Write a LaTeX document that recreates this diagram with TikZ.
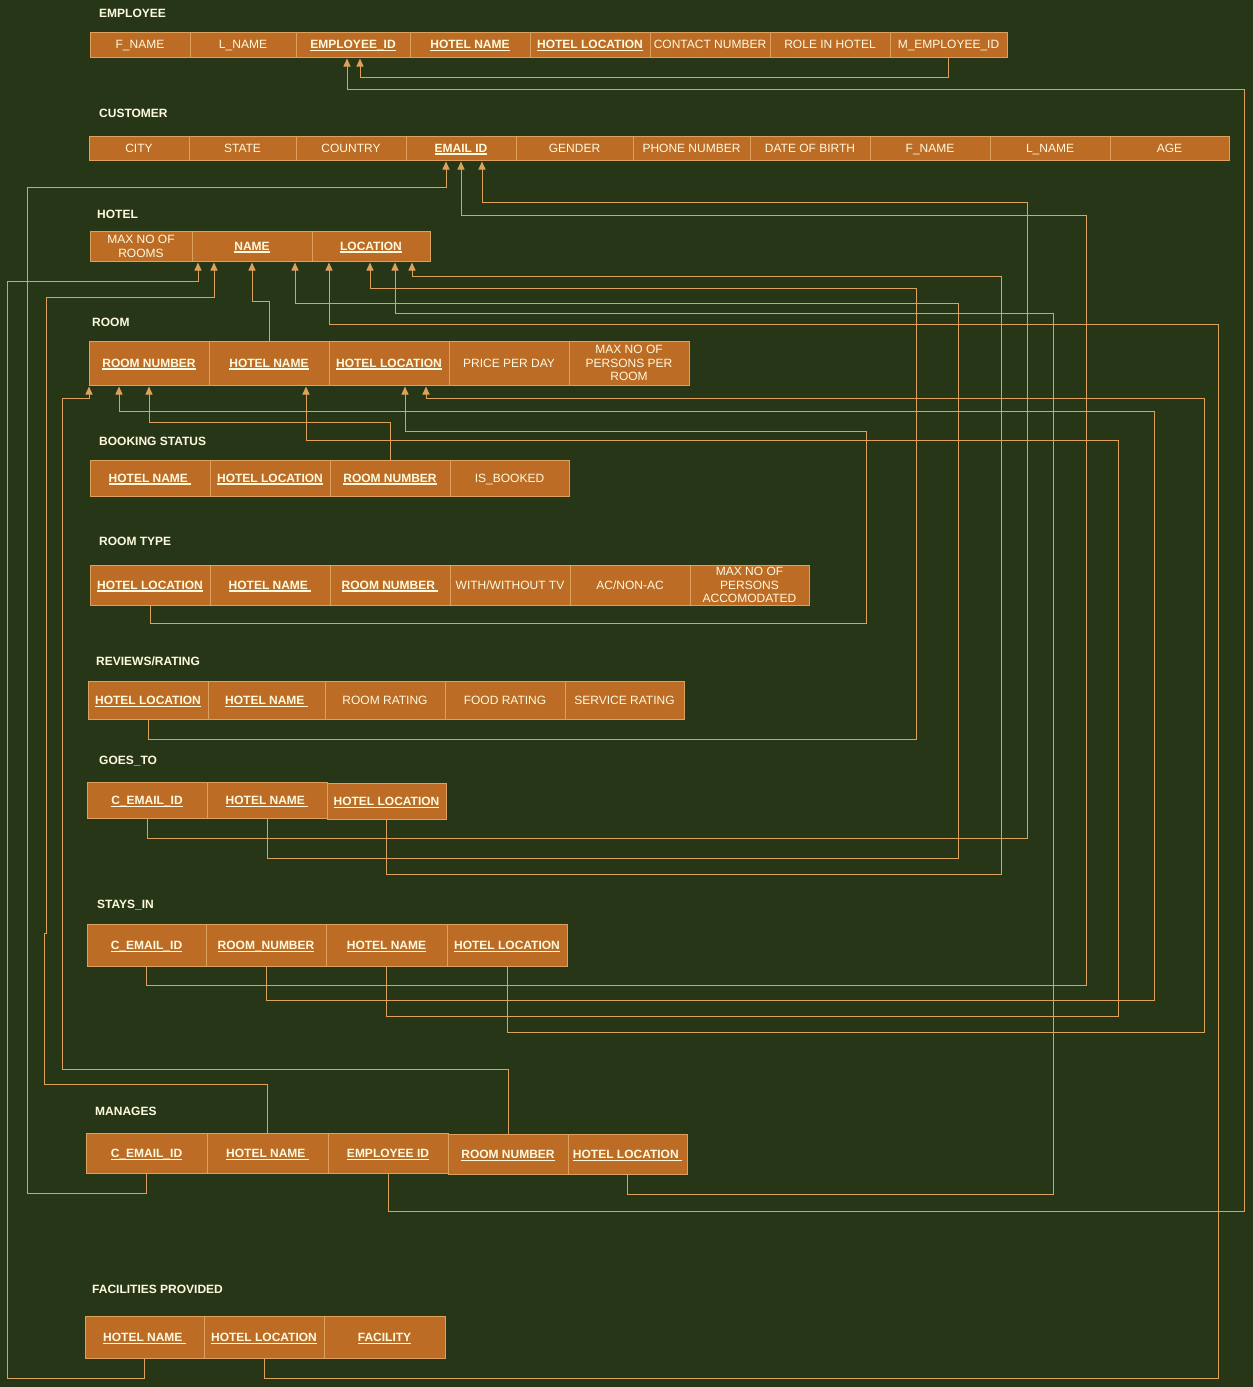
\documentclass[tikz,border=0pt]{standalone}
\usepackage{fontspec}
\setmainfont{Liberation Sans}
\usetikzlibrary{arrows.meta}
\usetikzlibrary{positioning}
\definecolor{bgc}{HTML}{283618}
\definecolor{cellc}{HTML}{BC6C25}
\definecolor{linec}{HTML}{DDA15E}
\definecolor{ink}{HTML}{FEFAE0}
\newcommand{\keyname}[1]{\textbf{\setbox0\hbox{#1}\rlap{\smash{\vrule width\wd0 height-1.3pt depth2.5pt}}\box0}}

\begin{document}
\begin{tikzpicture}[x=1pt,y=-1pt,node distance=0pt,
  every node/.style={font=\fontsize{12}{13.8}\selectfont,text=ink},
  cell/.style={draw=linec,fill=cellc,line width=0.9pt,inner sep=0pt,outer sep=0pt,text depth=0pt,align=center},
  title/.style={anchor=west,inner sep=0pt,font=\fontsize{12}{13.8}\selectfont\bfseries},
  fk/.style={draw=linec,line width=0.9pt,shorten >=1.5pt,-{Triangle[width=7pt,length=8pt]}}]
  \path[use as bounding box,fill=bgc] (0,0) rectangle (1253,1387);
  % the tables
  \node[title] at (99,13) {EMPLOYEE};
  \begin{scope}[cell/.append style={minimum height=25pt}]
  \node[cell,minimum width=100pt,anchor=north west] (em1) at (90,32) {F\_NAME};
  \node[cell,minimum width=106pt,right=of em1] (em2) {L\_NAME};
  \node[cell,minimum width=114pt,right=of em2] (em3) {\keyname{EMPLOYEE\_ID}};
  \node[cell,minimum width=120pt,right=of em3] (em4) {\keyname{HOTEL NAME}};
  \node[cell,minimum width=120pt,right=of em4] (em5) {\keyname{HOTEL LOCATION}};
  \node[cell,minimum width=120pt,right=of em5] (em6) {CONTACT NUMBER};
  \node[cell,minimum width=120pt,right=of em6] (em7) {ROLE IN HOTEL};
  \node[cell,minimum width=117pt,right=of em7] (em8) {M\_EMPLOYEE\_ID};
  \end{scope}

  \node[title] at (99,113) {CUSTOMER};
  \begin{scope}[cell/.append style={minimum height=24pt}]
  \node[cell,minimum width=100pt,anchor=north west] (cu1) at (89,136) {CITY};
  \node[cell,minimum width=107pt,right=of cu1] (cu2) {STATE};
  \node[cell,minimum width=110pt,right=of cu2] (cu3) {COUNTRY};
  \node[cell,minimum width=110pt,right=of cu3] (cu4) {\keyname{EMAIL ID}};
  \node[cell,minimum width=117pt,right=of cu4] (cu5) {GENDER};
  \node[cell,minimum width=117pt,right=of cu5] (cu6) {PHONE NUMBER};
  \node[cell,minimum width=120pt,right=of cu6] (cu7) {DATE OF BIRTH};
  \node[cell,minimum width=120pt,right=of cu7] (cu8) {F\_NAME};
  \node[cell,minimum width=120pt,right=of cu8] (cu9) {L\_NAME};
  \node[cell,minimum width=119pt,right=of cu9] (cu10) {AGE};
  \end{scope}

  \node[title] at (97,214) {HOTEL};
  \begin{scope}[cell/.append style={minimum height=30pt}]
  \node[cell,minimum width=102pt,anchor=north west] (ho1) at (90,231) {MAX NO OF\\ROOMS};
  \node[cell,minimum width=120pt,right=of ho1] (ho2) {\keyname{NAME}};
  \node[cell,minimum width=118pt,right=of ho2] (ho3) {\keyname{LOCATION}};
  \end{scope}

  \node[title] at (92,322) {ROOM};
  \begin{scope}[cell/.append style={minimum height=44pt,minimum width=120pt}]
  \node[cell,anchor=north west] (ro1) at (89,341) {\keyname{ROOM NUMBER}};
  \node[cell,right=of ro1] (ro2) {\keyname{HOTEL NAME}};
  \node[cell,right=of ro2] (ro3) {\keyname{HOTEL LOCATION}};
  \node[cell,right=of ro3] (ro4) {PRICE PER DAY};
  \node[cell,right=of ro4] (ro5) {MAX NO OF\\PERSONS PER\\ROOM};
  \end{scope}

  \node[title] at (99,441) {BOOKING STATUS};
  \begin{scope}[cell/.append style={minimum height=36pt,minimum width=120pt}]
  \node[cell,anchor=north west] (bs1) at (90,460) {\keyname{HOTEL NAME\ }};
  \node[cell,right=of bs1] (bs2) {\keyname{HOTEL LOCATION}};
  \node[cell,right=of bs2] (bs3) {\keyname{ROOM NUMBER}};
  \node[cell,minimum width=119pt,right=of bs3] (bs4) {IS\_BOOKED};
  \end{scope}

  \node[title] at (99,541) {ROOM TYPE};
  \begin{scope}[cell/.append style={minimum height=40pt,minimum width=120pt}]
  \node[cell,anchor=north west] (rt1) at (90,565) {\keyname{HOTEL LOCATION}};
  \node[cell,right=of rt1] (rt2) {\keyname{HOTEL NAME\ }};
  \node[cell,right=of rt2] (rt3) {\keyname{ROOM NUMBER\ }};
  \node[cell,right=of rt3] (rt4) {WITH/WITHOUT TV};
  \node[cell,right=of rt4] (rt5) {AC/NON-AC};
  \node[cell,minimum width=119pt,right=of rt5] (rt6) {MAX NO OF\\PERSONS\\ACCOMODATED};
  \end{scope}

  \node[title] at (96,661) {REVIEWS/RATING};
  \begin{scope}[cell/.append style={minimum height=38pt,minimum width=120pt}]
  \node[cell,anchor=north west] (rr1) at (88,681) {\keyname{HOTEL LOCATION}};
  \node[cell,minimum width=117pt,right=of rr1] (rr2) {\keyname{HOTEL NAME\ }};
  \node[cell,right=of rr2] (rr3) {ROOM RATING};
  \node[cell,right=of rr3] (rr4) {FOOD RATING};
  \node[cell,minimum width=119pt,right=of rr4] (rr5) {SERVICE RATING};
  \end{scope}

  \node[title] at (99,761) {GOES\_TO};
  \begin{scope}[cell/.append style={minimum height=36pt,minimum width=120pt}]
  \node[cell,anchor=north west] (gt1) at (87,782) {\keyname{C\_EMAIL\_ID}};
  \node[cell,right=of gt1] (gt2) {\keyname{HOTEL NAME\ }};
  \node[cell,minimum width=119pt,right=of gt2,yshift=-1pt] (gt3) {\keyname{HOTEL LOCATION}};
  \end{scope}

  \node[title] at (97,905) {STAYS\_IN};
  \begin{scope}[cell/.append style={minimum height=42pt,minimum width=120pt}]
  \node[cell,minimum width=119pt,anchor=north west] (si1) at (87,924) {\keyname{C\_EMAIL\_ID}};
  \node[cell,right=of si1] (si2) {\keyname{ROOM\_NUMBER}};
  \node[cell,minimum width=121pt,right=of si2] (si3) {\keyname{HOTEL NAME}};
  \node[cell,right=of si3] (si4) {\keyname{HOTEL LOCATION}};
  \end{scope}

  \node[title] at (95,1111) {MANAGES};
  \begin{scope}[cell/.append style={minimum height=40pt,minimum width=120pt}]
  \node[cell,minimum width=121pt,anchor=north west] (ma1) at (86,1133) {\keyname{C\_EMAIL\_ID}};
  \node[cell,minimum width=121pt,right=of ma1] (ma2) {\keyname{HOTEL NAME\ }};
  \node[cell,right=of ma2] (ma3) {\keyname{EMPLOYEE ID}};
  \node[cell,right=of ma3,yshift=-1pt] (ma4) {\keyname{ROOM NUMBER}};
  \node[cell,minimum width=119pt,right=of ma4] (ma5) {\keyname{HOTEL LOCATION\ }};
  \end{scope}

  \node[title] at (92,1289) {FACILITIES PROVIDED};
  \begin{scope}[cell/.append style={minimum height=42pt,minimum width=120pt}]
  \node[cell,minimum width=119pt,anchor=north west] (fp1) at (85,1316) {\keyname{HOTEL NAME\ }};
  \node[cell,right=of fp1] (fp2) {\keyname{HOTEL LOCATION}};
  \node[cell,minimum width=121pt,right=of fp2] (fp3) {\keyname{FACILITY}};
  \end{scope}

  % the keys
  \draw[fk] (em8.south) -- ++(0,20) -| ([xshift=7pt]em3.south);
  \draw[fk] (ma3.south) |- (1244,1211) -- (1244,89) -| ([xshift=-6pt]em3.south);
  \draw[fk] (ma1.south) |- (27,1193) -- (27,187) -| ([xshift=-15pt]cu4.south);
  \draw[fk] (si1.south) |- (1086,985) -- (1086,215) -| (cu4.south);
  \draw[fk] (gt1.south) |- (1027,838) -- (1027,202) -| ([xshift=21pt]cu4.south);
  \draw[fk] (fp1.south) |- (7,1378) -- (7,281) -| ([xshift=-54pt]ho2.south);
  \draw[fk] (ma2.north) |- (44,1084) -- (44,933) -- (46,933) -- (46,297) -| ([xshift=-38pt]ho2.south);
  \draw[fk] (ro2.north) -- ++(0,-40) -| (ho2.south);
  \draw[fk] (gt2.south) |- (958,858) -- (958,303) -| ([xshift=43pt]ho2.south);
  \draw[fk] (fp2.south) |- (1218,1378) -- (1218,324) -| ([xshift=-42pt]ho3.south);
  \draw[fk] (rr1.south) |- (916,739) -- (916,288) -| ([xshift=-1pt]ho3.south);
  \draw[fk] (ma5.south) |- (1053,1194) -- (1053,313) -| ([xshift=24pt]ho3.south);
  \draw[fk] (gt3.south) |- (1001,874) -- (1001,276) -| ([xshift=41pt]ho3.south);
  \draw[fk] (ma4.north) |- (62,1069) -- (62,398) -| (ro1.south west);
  \draw[fk] (si2.south) |- (1154,1000) -- (1154,411) -| ([xshift=-30pt]ro1.south);
  \draw[fk] (bs3.north) -- ++(0,-38) -| (ro1.south);
  \draw[fk] (si3.south) |- (1118,1016) -- (1118,440) -| ([xshift=37pt]ro2.south);
  \draw[fk] (rt1.south) |- (866,623) -- (866,431) -| ([xshift=16pt]ro3.south);
  \draw[fk] (si4.south) |- (1204,1032) -- (1204,398) -| ([xshift=37pt]ro3.south);
\end{tikzpicture}
\end{document}
